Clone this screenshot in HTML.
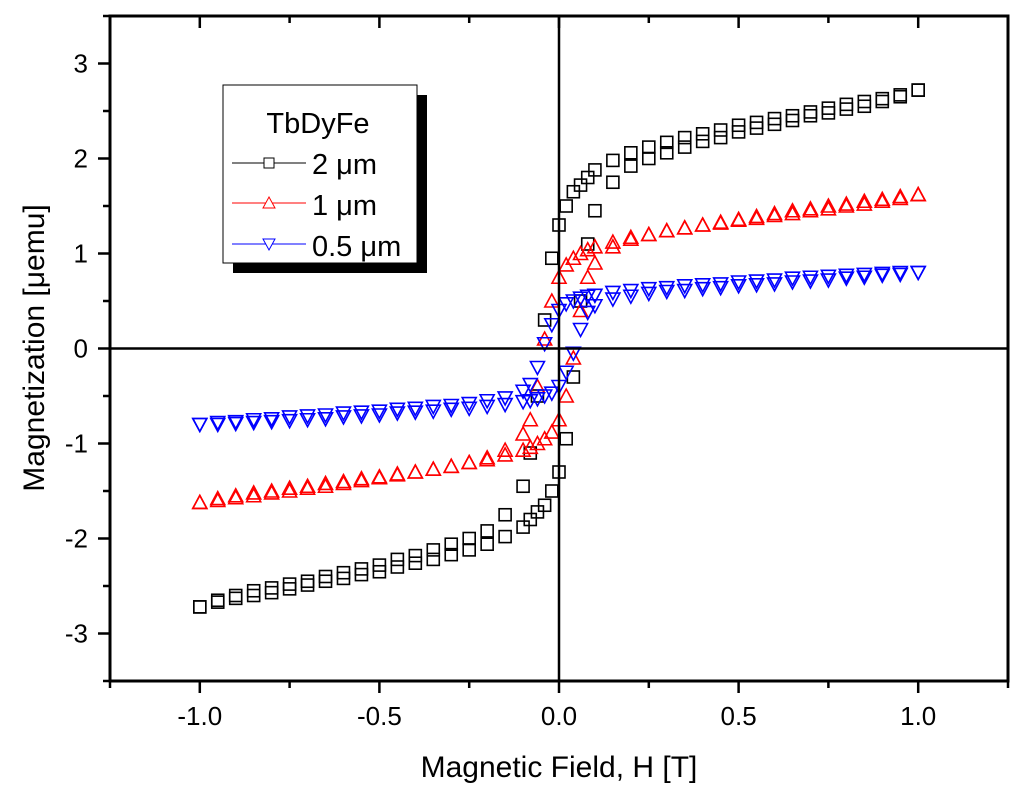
<!DOCTYPE html>
<html><head><meta charset="utf-8"><style>
body{margin:0;background:#fff}
svg{display:block;font-family:"Liberation Sans",sans-serif}
</style></head><body>
<svg id="chart" width="1024" height="798" viewBox="0 0 1024 798">
<g id="marks"></g>
<g id="axes"></g>
<g id="legend">
<rect x="233" y="95" width="194" height="178" fill="#000"/>
<rect x="223" y="85" width="194" height="178" fill="#fff" stroke="#000" stroke-width="1"/>
<text x="318" y="133" font-size="29" text-anchor="middle">TbDyFe</text>
<g><line x1="232" y1="163" x2="306" y2="163" stroke="#000"/><rect x="264" y="158" width="10" height="10" fill="#fff" stroke="#000"/><text x="312" y="174" font-size="29">2 μm</text></g>
<g><line x1="232" y1="203" x2="306" y2="203" stroke="#f00"/><path d="M269,197 L275,208 L263,208 Z" fill="#fff" stroke="#f00"/><text x="312" y="215" font-size="29">1 μm</text></g>
<g><line x1="232" y1="244" x2="306" y2="244" stroke="#00f"/><path d="M263,239 L275,239 L269,250 Z" fill="#fff" stroke="#00f"/><text x="312" y="256" font-size="29">0.5 μm</text></g>
</g>
<text x="559" y="777" font-size="30" text-anchor="middle">Magnetic Field, H [T]</text>
<text transform="translate(44,348) rotate(-90)" font-size="30" text-anchor="middle">Magnetization [μemu]</text>
</svg>
<script>
const H = [-1,-0.95,-0.9,-0.85,-0.8,-0.75,-0.7,-0.65,-0.6,-0.55,-0.5,-0.45,-0.4,-0.35,-0.3,-0.25,-0.2,-0.15,-0.1,-0.08,-0.06,-0.04,-0.02,0,0.02,0.04,0.06,0.08,0.1,0.15,0.2,0.25,0.3,0.35,0.4,0.45,0.5,0.55,0.6,0.65,0.7,0.75,0.8,0.85,0.9,0.95,1];
const black_down = [-2.72,-2.65,-2.6,-2.55,-2.52,-2.48,-2.45,-2.4,-2.36,-2.32,-2.28,-2.22,-2.18,-2.12,-2.06,-2.0,-1.92,-1.75,-1.45,-1.1,-0.5,0.3,0.95,1.3,1.5,1.65,1.72,1.8,1.88,1.98,2.06,2.12,2.17,2.22,2.26,2.3,2.35,2.38,2.42,2.45,2.49,2.53,2.57,2.6,2.63,2.67,2.72];
const black_up = [-2.72,-2.67,-2.63,-2.6,-2.57,-2.53,-2.49,-2.45,-2.42,-2.38,-2.35,-2.3,-2.26,-2.22,-2.17,-2.12,-2.06,-1.98,-1.88,-1.8,-1.72,-1.65,-1.5,-1.3,-0.95,-0.3,0.5,1.1,1.45,1.75,1.92,2.0,2.06,2.12,2.18,2.22,2.28,2.32,2.36,2.4,2.45,2.48,2.52,2.55,2.6,2.65,2.72];
const red_down = [-1.62,-1.58,-1.55,-1.52,-1.5,-1.47,-1.45,-1.42,-1.4,-1.37,-1.35,-1.32,-1.3,-1.27,-1.24,-1.2,-1.15,-1.07,-0.9,-0.75,-0.4,0.1,0.5,0.75,0.88,0.95,1.0,1.04,1.07,1.12,1.17,1.2,1.24,1.27,1.3,1.33,1.36,1.39,1.42,1.45,1.47,1.5,1.52,1.55,1.57,1.6,1.62];
const red_up = [-1.62,-1.6,-1.57,-1.55,-1.52,-1.5,-1.47,-1.45,-1.42,-1.39,-1.36,-1.33,-1.3,-1.27,-1.24,-1.2,-1.17,-1.12,-1.07,-1.04,-1.0,-0.95,-0.88,-0.75,-0.5,-0.1,0.4,0.75,0.9,1.07,1.15,1.2,1.24,1.27,1.3,1.32,1.35,1.37,1.4,1.42,1.45,1.47,1.5,1.52,1.55,1.58,1.62];
const blue_down = [-0.8,-0.78,-0.77,-0.75,-0.74,-0.72,-0.71,-0.7,-0.68,-0.67,-0.66,-0.64,-0.63,-0.61,-0.6,-0.58,-0.55,-0.52,-0.45,-0.38,-0.2,0.05,0.25,0.4,0.47,0.5,0.53,0.55,0.56,0.59,0.61,0.63,0.64,0.66,0.67,0.68,0.7,0.71,0.72,0.74,0.75,0.76,0.77,0.78,0.79,0.8,0.8];
const blue_up = [-0.8,-0.8,-0.79,-0.78,-0.77,-0.76,-0.75,-0.74,-0.72,-0.71,-0.7,-0.68,-0.67,-0.66,-0.64,-0.63,-0.61,-0.59,-0.56,-0.55,-0.53,-0.5,-0.47,-0.4,-0.25,-0.05,0.2,0.38,0.45,0.52,0.55,0.58,0.6,0.61,0.63,0.64,0.66,0.67,0.68,0.7,0.71,0.72,0.74,0.75,0.77,0.78,0.8];
const xTicks = [-1.0,-0.5,0.0,0.5,1.0];
const xTickLabels = ["-1.0","-0.5","0.0","0.5","1.0"];
const yTicks = [-3,-2,-1,0,1,2,3];
const yTickLabels = ["-3","-2","-1","0","1","2","3"];

const X0=110,X1=1008,Y0=16,Y1=681,XMIN=-1.25,XMAX=1.25,YMIN=-3.5,YMAX=3.5;
function sx(v){return X0+(v-XMIN)/(XMAX-XMIN)*(X1-X0);}
function sy(v){return Y1-(v-YMIN)/(YMAX-YMIN)*(Y1-Y0);}
const NS="http://www.w3.org/2000/svg";
function mk(tag,attrs,parent){const e=document.createElementNS(NS,tag);for(const k in attrs)e.setAttribute(k,attrs[k]);parent.appendChild(e);return e;}
const marks=document.getElementById('marks'), axes=document.getElementById('axes');

function drawSeries(vals,color,shape,name){
  const g=mk('g',{},marks);
  
  
  for(let i=0;i<H.length;i++){
    const x=sx(H[i]),y=sy(vals[i]);let e;
    if(shape==='sq') e=mk('rect',{x:x-6,y:y-6,width:12,height:12,fill:'none',stroke:color,'stroke-width':1.6},g);
    else if(shape==='up') e=mk('path',{d:`M${x},${y-7}L${x+7},${y+6}L${x-7},${y+6}Z`,fill:'none',stroke:color,'stroke-width':1.6},g);
    else e=mk('path',{d:`M${x-7},${y-6}L${x+7},${y-6}L${x},${y+7}Z`,fill:'none',stroke:color,'stroke-width':1.6},g);
    
    
  }
}
drawSeries(black_down,'#000','sq','series-2um-descending');
drawSeries(black_up,'#000','sq','series-2um-ascending');
drawSeries(red_down,'#f00','up','series-1um-descending');
drawSeries(red_up,'#f00','up','series-1um-ascending');
drawSeries(blue_down,'#00f','dn','series-0-5um-descending');
drawSeries(blue_up,'#00f','dn','series-0-5um-ascending');

let zl=mk('line',{x1:X0,x2:X1,y1:sy(0),y2:sy(0),stroke:'#000','stroke-width':2.5},axes);


zl=mk('line',{x1:sx(0),x2:sx(0),y1:Y0,y2:Y1,stroke:'#000','stroke-width':2.5},axes);


const fr=mk('rect',{x:X0,y:Y0,width:X1-X0,height:Y1-Y0,fill:'none',stroke:'#000','stroke-width':3},axes);


for(let v=-1.25;v<=1.2501;v+=0.25){
  const x=sx(v),major=Math.abs(v*2-Math.round(v*2))<1e-6;
  mk('line',{x1:x,x2:x,y1:Y1,y2:Y1+(major?12:7),stroke:'#000','stroke-width':2.5},axes);
  mk('line',{x1:x,x2:x,y1:Y0,y2:Y0+(major?12:7),stroke:'#000','stroke-width':2.5},axes);
}
xTicks.forEach((v,i)=>{const t=mk('text',{x:sx(v),y:Y1+44,'font-size':26,'text-anchor':'middle'},axes);t.textContent=xTickLabels[i];
  
  });
for(let v=-3.5;v<=3.5001;v+=0.5){
  const y=sy(v),major=Math.abs(v-Math.round(v))<1e-6;
  mk('line',{x1:X0-(major?12:7),x2:X0,y1:y,y2:y,stroke:'#000','stroke-width':2.5},axes);
}
yTicks.forEach((v,i)=>{const t=mk('text',{x:X0-22,y:sy(v)+9,'font-size':26,'text-anchor':'end'},axes);t.textContent=yTickLabels[i];
  
  });
</script>
</body></html>
